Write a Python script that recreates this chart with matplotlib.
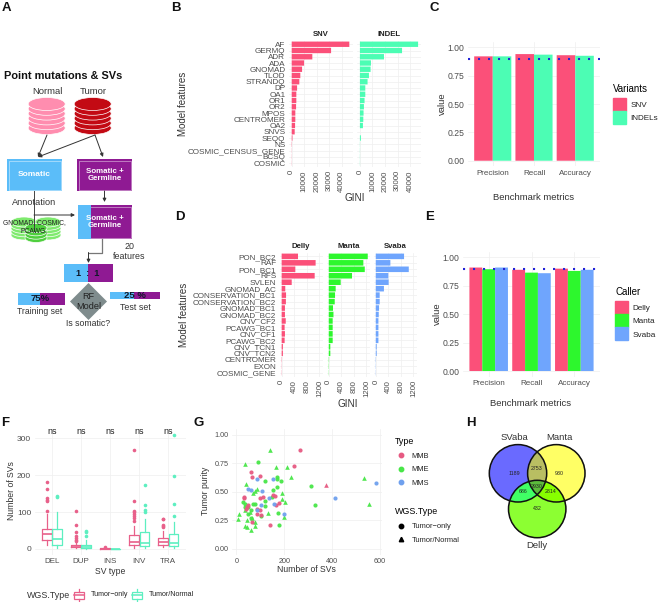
import numpy as np
import matplotlib

matplotlib.use("Agg")
import matplotlib.pyplot as plt
from matplotlib.lines import Line2D
from matplotlib.patches import Circle, Ellipse, Polygon, Rectangle

plt.rcParams["font.family"] = ["Liberation Sans", "DejaVu Sans"]

W, H = 659, 602

PINK = "#FB5079"
TEAL = "#4CFDB4"
GREEN = "#2DF72D"
BLUE = "#6FA5FD"
GREY = "#4D4D4D"
GRID = "#EFEFEF"

# panel B
snv_features = ["AF", "GERMQ", "ADR", "ADA", "GNOMAD", "TLOD", "STRANDQ", "DP", "OA1", "OR1",
                "OR2", "MPOS", "CENTROMER", "OA2", "SNVS", "SEQQ", "NS",
                "COSMIC_CENSUS_GENE", "BCSQ", "COSMIC"]
snv_gini = [46100, 31500, 16500, 9900, 8300, 6900, 6100, 4300, 3700, 3700,
            3500, 2900, 2900, 2700, 2400, 600, 200, 100, 100, 100]
indel_gini = [46400, 33600, 19200, 8800, 8500, 7200, 6100, 4300, 4300, 3700,
              3200, 2900, 2700, 2400, 0, 800, 100, 100, 100, 100]

# panel C / E
metrics = ["Precision", "Recall", "Accuracy"]
snv_scores = [0.92, 0.94, 0.93]
indel_scores = [0.92, 0.935, 0.925]
delly_scores = [0.91, 0.89, 0.90]
manta_scores = [0.895, 0.865, 0.88]
svaba_scores = [0.91, 0.86, 0.89]

# panel D
sv_features = ["PON_BC2", "RAF", "PON_BC1", "RFS", "SVLEN", "GNOMAD_AC", "CONSERVATION_BC1",
               "CONSERVATION_BC2", "GNOMAD_BC1", "GNOMAD_BC2", "CNV_CF2", "PCAWG_BC1", "CNV_CF1",
               "PCAWG_BC2", "CNV_TCN1", "CNV_TCN2", "CENTROMER", "EXON", "COSMIC_GENE"]
delly_gini = [520, 1080, 435, 1050, 320, 115, 140, 135, 105, 105, 130, 95, 105, 95, 40, 40, 8, 5, 5]
manta_gini = [1240, 1100, 1145, 740, 380, 220, 200, 190, 135, 150, 125, 125, 125, 125, 50, 50, 10, 8, 5]
svaba_gini = [900, 465, 1050, 400, 410, 260, 125, 125, 105, 95, 85, 85, 85, 85, 30, 30, 8, 6, 5]

# panel F, each box: whisker low, q1, median, q3, whisker high, outliers
sv_types = ["DEL", "DUP", "INS", "INV", "TRA"]
tumor_only_boxes = [
    (12, 25, 40, 55, 95, [103, 130, 133, 137, 163, 182]),
    (2, 5, 8, 12, 20, [22, 25, 30, 35, 45, 65, 103]),
    (0, 0, 1, 2, 3, [4]),
    (2, 10, 20, 37, 62, [75, 85, 90, 95, 100, 103, 130, 267]),
    (4, 12, 18, 30, 50, [60, 62, 65, 80, 82]),
]
tumor_normal_boxes = [
    (2, 10, 28, 55, 100, [140, 143]),
    (1, 2, 6, 12, 25, [35, 45, 48]),
    (0, 0, 0.5, 1, 1, []),
    (2, 7, 17, 45, 80, [100, 105, 118, 172]),
    (2, 8, 17, 40, 72, [88, 123, 198, 310]),
]

# panel G
mmb_only_x = [267, 242, 59, 99, 64, 31, 31, 50, 43, 39, 97, 109, 162, 153, 179, 165, 85, 88, 99, 104, 64, 140]
mmb_only_y = [.87, .727, .677, .64, .625, .45, .443, .385, .364, .346, .443, .45, .46, .472, .40, .385, .346, .308, .34, .296, .235, .208]
mmb_pair_x = [375]
mmb_pair_y = [.56]
mme_only_x = [92, 120, 168, 168, 186, 168, 153, 150, 118, 118, 172, 179, 312, 328, 29, 36, 71, 78, 50, 62, 62, 104, 48, 36]
mme_only_y = [.757, .59, .633, .613, .598, .543, .513, .452, .422, .378, .31, .208, .551, .381, .408, .393, .393, .39, .305, .34, .267, .287, .364, .37]
mme_pair_x = [139, 34, 165, 211, 227, 535, 552, 38, 85, 78, 71, 190, 190, 202, 134, 200, 7, 11, 45, 64, 34, 46, 62, 76, 78, 57, 34]
mme_pair_y = [.865, .739, .713, .721, .628, .619, .39, .569, .528, .507, .493, .493, .437, .408, .311, .282, .258, .305, .252, .267, .202, .188, .161, .202, .238, .326, .34]
mms_only_x = [85, 151, 50, 60, 106, 137, 158, 101, 200, 410, 582, 88]
mms_only_y = [.613, .613, .525, .513, .51, .443, .39, .387, .302, .446, .578, .34]

# panel H
venn_names = ["SVaba", "Manta", "Delly"]
venn_counts = {"a": 1189, "b": 930, "c": 432, "ab": 2753, "ac": 686, "bc": 2814, "abc": 2930}


def panel(x0, y0, x1, y1):
    ax = fig.add_axes([x0 / W, 1 - y1 / H, (x1 - x0) / W, (y1 - y0) / H])
    ax.set_facecolor("none")
    for s in ax.spines.values():
        s.set_visible(False)
    ax.grid(True, color=GRID, lw=0.5)
    ax.set_axisbelow(True)
    ax.tick_params(length=0, labelsize=6, labelcolor=GREY, pad=2.5)
    return ax


def label(x, y, s, size=7, rotation=0, color="#333333", ha="center", weight="normal"):
    over.text(x, y, s, fontsize=size, rotation=rotation, color=color, ha=ha, va="center",
              fontweight=weight, linespacing=1.05)


def gini_facet(x0, x1, y0, y1, names, values, color, title, xmax, ticks, show_names):
    ax = panel(x0, y0, x1, y1)
    pos = np.arange(len(names))
    ax.barh(pos, values, height=0.86, color=color, snap=False)
    ax.set_ylim(len(names) - 0.4, -0.6)
    ax.set_xlim(-0.05 * xmax, 1.05 * xmax)
    ax.set_xticks(ticks)
    ax.set_xticklabels([str(t) for t in ticks], rotation=90, fontsize=5.6)
    ax.set_yticks(pos)
    ax.set_yticklabels(names if show_names else [], fontsize=5.9)
    ax.set_title(title, fontsize=5.6, fontweight="bold", color="#222222", pad=3.2)
    return ax


def score_panel(x0, x1, y0, y1, series, colors):
    ax = panel(x0, y0, x1, y1)
    n = len(series)
    width = 0.9 / n
    for i, (vals, c) in enumerate(zip(series, colors)):
        ax.bar(np.arange(1, 4) + (i - (n - 1) / 2) * width, vals, width=width, color=c, snap=False)
    ax.axhline(0.9, color="#2323D8", lw=1.5, ls=(0, (1, 3.8)))
    ax.set_xlim(0.4, 3.6)
    ax.set_ylim(-0.05, 1.05)
    ax.set_xticks([1, 2, 3])
    ax.set_xticklabels(metrics, fontsize=5.8)
    ax.set_yticks([0, 0.25, 0.5, 0.75, 1.0])
    ax.set_yticklabels(["0.00", "0.25", "0.50", "0.75", "1.00"], fontsize=6.2)
    return ax


def square_legend(x, y, title, names, colors):
    handles = [Rectangle((0, 0), 1, 1, color=c) for c in colors]
    leg = fig.legend(handles, names, loc="upper left", bbox_to_anchor=(x / W, 1 - y / H), frameon=False,
                     title=title, title_fontsize=7, fontsize=5.9, alignment="left", borderpad=0,
                     borderaxespad=0, handlelength=1.6, handleheight=2.06, labelspacing=0.02,
                     handletextpad=0.5, labelcolor="#222222")
    leg._legend_box.sep = 3


def draw_boxes(ax, boxes, offset, color):
    stats = [dict(whislo=b[0], q1=b[1], med=b[2], q3=b[3], whishi=b[4], fliers=b[5]) for b in boxes]
    pos = np.arange(len(boxes)) + offset
    ax.bxp(stats, positions=pos, widths=0.34, manage_ticks=False, showcaps=False,
           boxprops=dict(color=color, lw=0.9), whiskerprops=dict(color=color, lw=0.9),
           medianprops=dict(color=color, lw=1.2),
           flierprops=dict(marker="o", ms=2.6, mfc=color, mec=color, mew=0))


def cylinder(cx, top, bottom, rx, ry, layers, color):
    for y in np.linspace(bottom, top, layers):
        over.add_patch(Ellipse((cx, y), 2 * rx, 2 * ry, fc=color, ec="white", lw=0.5))


def box(x0, y0, x1, y1, color, inner=True):
    over.add_patch(Rectangle((x0, y0), x1 - x0, y1 - y0, fc=color, ec="none"))
    if inner:
        over.add_patch(Rectangle((x0 + 1.5, y0 + 1.5), x1 - x0 - 3, y1 - y0 - 3, fc="none", ec="#FFFFFF", lw=0.4, alpha=0.75))


def arrow(x0, y0, x1, y1, color="#333333"):
    over.annotate("", xy=(x1, y1), xytext=(x0, y0),
                  arrowprops=dict(arrowstyle="-|>", color=color, lw=0.7, mutation_scale=5,
                                  shrinkA=0, shrinkB=0))


fig = plt.figure(figsize=(W / 100, H / 100), dpi=100)
over = fig.add_axes([0, 0, 1, 1], zorder=5)
over.set_facecolor("none")
over.axis("off")

# ---- panel A, flow diagram
SKY = "#5BBDF9"
PURPLE = "#8F1A93"
label(4.5, 76, "Point mutations & SVs", size=7.95, ha="left", color="#111111", weight="bold")
label(47, 92, "Normal", size=6.8)
label(93, 92, "Tumor", size=6.8)
cylinder(46.7, 104, 128, 18.5, 6.5, 6, "#FF8DAF")
cylinder(92.7, 104, 128, 18.5, 6.5, 6, "#C30A14")
arrow(47, 135, 38, 157)
arrow(95, 135, 38, 157)
arrow(95, 135, 103, 157)
box(7, 159, 62, 191, SKY)
label(34, 175, "Somatic", size=6, color="white", weight="bold")
box(77, 159, 132, 191, PURPLE)
label(104.5, 175, "Somatic +\nGermline", size=5.7, color="white", weight="bold")
arrow(104.5, 191, 104.5, 202)
cylinder(24, 222, 235, 13, 5, 5, "#7FEA6E")
cylinder(48, 222, 235, 13, 5, 5, "#7FEA6E")
cylinder(36, 228, 238, 11, 4.5, 4, "#4FCF3E")
over.plot([34, 34], [191, 231], color="#444444", lw=0.7)
arrow(34, 215, 75, 215)
label(34, 202.5, "Annotation", size=6.6)
label(34, 226.5, "GNOMAD, COSMIC,\nPCAWG,", size=4.9, color="#222222")
box(78, 205, 132, 239, PURPLE)
over.add_patch(Rectangle((78, 205), 13, 34, fc=SKY, ec="none"))
label(105, 222, "Somatic +\nGermline", size=5.7, color="white", weight="bold")
over.plot([102, 102, 88.5], [239, 252.5, 252.5], color="#777777", lw=0.9)
arrow(88.5, 252.5, 88.5, 263)
label(129.5, 251.5, "20\nfeatures", size=6.4)
box(64, 264, 113, 282, PURPLE, inner=False)
over.add_patch(Rectangle((64, 264), 23.5, 18, fc=SKY, ec="none"))
label(88, 273.5, "1  :  1", size=6.6, color="#101828", weight="bold")
box(17.5, 292.5, 64.5, 305, PURPLE, inner=False)
over.add_patch(Rectangle((17.5, 292.5), 22, 12.5, fc=SKY, ec="none"))
label(40, 298.8, "75%", size=6.8, color="#101828", weight="bold")
box(110, 292, 159.5, 299, PURPLE, inner=False)
over.add_patch(Rectangle((110, 292), 24, 7, fc=SKY, ec="none"))
label(135, 295.5, "25 %", size=6.8, color="#101828", weight="bold")
over.add_patch(Polygon([(88.5, 283), (107, 301.5), (88.5, 320), (70, 301.5)], fc="#7F8C8D", ec="none"))
label(88.5, 301.5, "RF\nModel", size=6.6, color="#222222")
label(40, 311.5, "Training set", size=6.2)
label(135, 307.5, "Test set", size=6.4)
label(88.5, 324, "Is somatic?", size=6.3)

# ---- panel B
gini_facet(288.8, 352.6, 40.5, 166.75, snv_features, snv_gini, PINK, "SNV", 46400,
           [0, 10000, 20000, 30000, 40000], True)
gini_facet(357, 421, 40.5, 166.75, snv_features, indel_gini, TEAL, "INDEL", 46400,
           [0, 10000, 20000, 30000, 40000], False)
label(355, 198, "GINI", size=7.2)
label(183, 104, "Model features", size=7, rotation=90)

# ---- panel C
score_panel(468, 600, 41.6, 166.4, [snv_scores, indel_scores], [PINK, TEAL])
label(534, 198, "Benchmark metrics", size=6.8)
label(442, 104, "value", size=6.8, rotation=90)
square_legend(613, 83.5, "Variants", ["SNV", "INDELs"], [PINK, TEAL])

# ---- panel D
gini_ticks = [0, 400, 800, 1200]
gini_facet(279.7, 322.6, 252.5, 376.5, sv_features, delly_gini, PINK, "Delly", 1240, gini_ticks, True)
gini_facet(326.8, 369.7, 252.5, 376.5, sv_features, manta_gini, GREEN, "Manta", 1240, gini_ticks, False)
gini_facet(373.8, 416.7, 252.5, 376.5, sv_features, svaba_gini, BLUE, "Svaba", 1240, gini_ticks, False)
label(348, 404, "GINI", size=7.2)
label(184, 315, "Model features", size=7, rotation=90)

# ---- panel E
score_panel(463, 600, 251.6, 376.7, [delly_scores, manta_scores, svaba_scores], [PINK, GREEN, BLUE])
label(531, 404, "Benchmark metrics", size=6.8)
label(437, 314, "value", size=6.8, rotation=90)
square_legend(615, 287, "Caller", ["Delly", "Manta", "Svaba"], [PINK, GREEN, BLUE])

# ---- panel F
axf = panel(34.6, 429, 185.6, 554.5)
BOX_PINK = "#E8608A"
BOX_TEAL = "#5DEFC0"
draw_boxes(axf, tumor_only_boxes, -0.185, BOX_PINK)
draw_boxes(axf, tumor_normal_boxes, 0.185, BOX_TEAL)
axf.set_xlim(-0.6, 4.6)
axf.set_ylim(-15, 325)
axf.set_xticks(range(len(sv_types)))
axf.set_xticklabels(sv_types, fontsize=5.8)
axf.set_yticks([0, 100, 200, 300])
for i in range(len(sv_types)):
    axf.text(i, 317, "ns", ha="center", va="center", fontsize=6.5, color="#222222")
label(110, 571, "SV type", size=6.2)
label(12, 491, "Number of SVs", size=6.2, rotation=90)
label(26.5, 595, "WGS.Type", size=6.4, ha="left")
for kx, kc, kt in [(79, BOX_PINK, "Tumor−only"), (137, BOX_TEAL, "Tumor/Normal")]:
    over.add_patch(Rectangle((kx - 5, 591.5), 10, 7, fc="none", ec=kc, lw=0.9))
    over.plot([kx - 5, kx + 5], [595, 595], color=kc, lw=1.1)
    over.plot([kx, kx], [589, 591.5], color=kc, lw=0.9)
    over.plot([kx, kx], [598.5, 601], color=kc, lw=0.9)
    label(kx + 11.5, 595, kt, size=5.1, ha="left", color="#222222")

# ---- panel G
axg = panel(232, 429, 381.7, 554.5)
DOT_PINK = "#E65A82"
DOT_GREEN = "#48E648"
DOT_BLUE = "#6FA0EE"
axg.scatter(mme_only_x, mme_only_y, s=9, c=DOT_GREEN, marker="o", lw=0, alpha=0.95)
axg.scatter(mme_pair_x, mme_pair_y, s=11, c=DOT_GREEN, marker="^", lw=0, alpha=0.95)
axg.scatter(mmb_only_x, mmb_only_y, s=9, c=DOT_PINK, marker="o", lw=0, alpha=0.95)
axg.scatter(mmb_pair_x, mmb_pair_y, s=11, c=DOT_PINK, marker="^", lw=0, alpha=0.95)
axg.scatter(mms_only_x, mms_only_y, s=9, c=DOT_BLUE, marker="o", lw=0, alpha=0.95)
axg.set_xlim(-18.5, 607)
axg.set_ylim(-0.05, 1.05)
axg.set_xticks([0, 200, 400, 600])
axg.set_yticks([0, 0.25, 0.5, 0.75, 1.0])
axg.set_yticklabels(["0.00", "0.25", "0.50", "0.75", "1.00"])
axg.tick_params(labelsize=5.2)
label(306.7, 570, "Number of SVs", size=6.2)
label(206, 491, "Tumor purity", size=6.2, rotation=90)

type_handles = [Line2D([], [], ls="", marker="o", ms=3.2, color=c) for c in (DOT_PINK, DOT_GREEN, DOT_BLUE)]
shape_handles = [Line2D([], [], ls="", marker=m, ms=3.2, color="black") for m in ("o", "^")]
for handles, names, title, ytop in [(type_handles, ["MMB", "MME", "MMS"], "Type", 436.5),
                                    (shape_handles, ["Tumor−only", "Tumor/Normal"], "WGS.Type", 507)]:
    leg = fig.legend(handles, names, loc="upper left", bbox_to_anchor=(395 / W, 1 - ytop / H), frameon=False,
                     title=title, title_fontsize=6.4, fontsize=5.4, alignment="left", borderpad=0,
                     borderaxespad=0, handlelength=1.5, labelspacing=0.85, handletextpad=0.75,
                     labelcolor="#222222")
    leg._legend_box.sep = 5

# ---- panel H
centers = [(518, 473.3), (556.3, 473.3), (537.2, 509)]
R = 28.7
gx, gy = np.meshgrid(np.arange(480, 600, 0.25), np.arange(435, 545, 0.25))
ina, inb, inc = [(gx - cx) ** 2 + (gy - cy) ** 2 <= R ** 2 for cx, cy in centers]
img = np.zeros(gx.shape + (4,))
region_colors = [(ina, "#6A6AFF"), (inb, "#FFFF66"), (inc, "#8CFF33"), (ina & inb, "#B9BE63"),
                 (ina & inc, "#40FF66"), (inb & inc, "#88FF00"), (ina & inb & inc, "#5CBB3C")]
for mask, col in region_colors:
    img[mask] = matplotlib.colors.to_rgba(col)
over.imshow(img, extent=(480, 600, 545, 435), interpolation="bilinear", aspect="auto", zorder=1)
for c in centers:
    over.add_patch(Circle(c, R, fc="none", ec="#111111", lw=1.1, zorder=2))
venn_text = [("a", 514.5, 473.5), ("b", 559.5, 473.5), ("c", 537, 509), ("ab", 537, 469),
             ("ac", 523, 491.5), ("bc", 551, 491.5), ("abc", 537, 486)]
for key, tx, ty in venn_text:
    over.text(tx, ty, str(venn_counts[key]), fontsize=3.8, ha="center", va="center", color="#222222", zorder=3)
label(514.5, 437.5, venn_names[0], size=6.8)
label(559.5, 437.5, venn_names[1], size=6.8)
label(537, 546, venn_names[2], size=6.8)

# panel letters
for ch, lx, ly in [("A", 6, 8), ("B", 176, 8), ("C", 434, 8), ("D", 180, 217), ("E", 430, 217),
                   ("F", 5, 423), ("G", 199, 423), ("H", 471, 423)]:
    label(lx, ly, ch, size=9.5, color="#111111", weight="bold")

over.set_xlim(0, W)
over.set_ylim(H, 0)
fig.savefig("out.png", dpi=100)
